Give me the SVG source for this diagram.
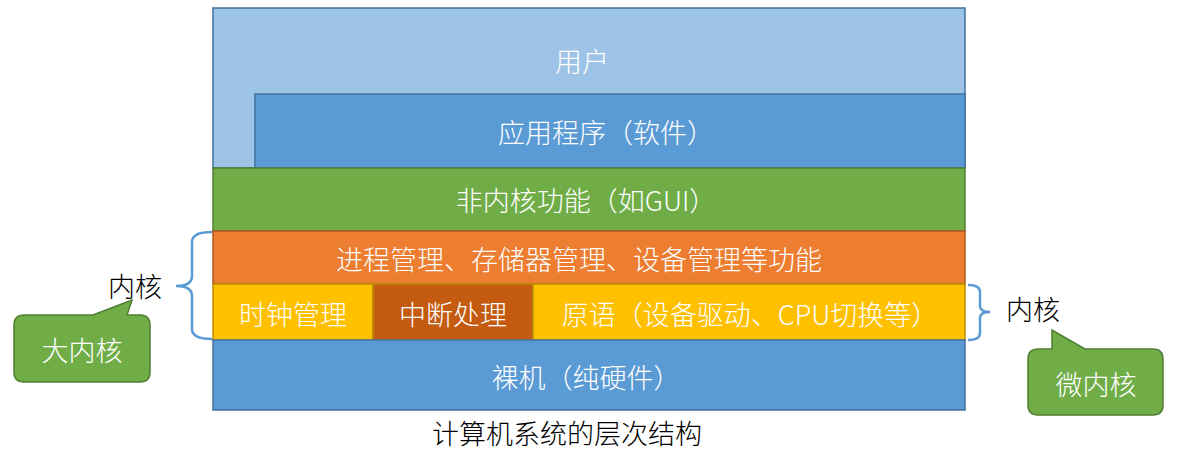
<svg xmlns="http://www.w3.org/2000/svg" width="1181" height="454" viewBox="0 0 1181 454">
<style>
text{font-family:"Noto Sans CJK SC","Noto Sans",sans-serif;font-size:27px;font-weight:300;text-anchor:middle;dominant-baseline:central}
.w{fill:#ffffff}
.k{fill:#000000}
.brace{fill:none;stroke:#5B9BD5;stroke-width:2.5}
</style>
<rect width="1181" height="454" fill="#ffffff"/>
<g id="user"><rect x="213" y="8" width="752" height="160" fill="#9DC3E6" stroke="#41719C" stroke-width="1.5"/><text class="w" x="582" y="60">用户</text></g>
<g id="app"><rect x="255" y="94" width="710" height="74" fill="#5B9BD5" stroke="#41719C" stroke-width="1.5"/><text class="w" x="606" y="131">应用程序（软件）</text></g>
<g id="nonkernel"><rect x="213" y="168" width="752" height="63" fill="#70AD47" stroke="#507E32" stroke-width="1.5"/><text class="w" x="586" y="199">非内核功能（如GUI）</text></g>
<g id="mgmt"><rect x="213" y="231" width="752" height="53" fill="#ED7D31" stroke="#AE5A21" stroke-width="1.5"/><text class="w" x="579" y="258">进程管理、存储器管理、设备管理等功能</text></g>
<g id="clock"><rect x="213" y="284" width="160" height="56" fill="#FFC000" stroke="#BC8C00" stroke-width="1.5"/><text class="w" x="293" y="313">时钟管理</text></g>
<g id="interrupt"><rect x="373" y="284" width="160" height="56" fill="#C55A11" stroke="#BC8C00" stroke-width="1.5"/><text class="w" x="453" y="313">中断处理</text></g>
<g id="primitive"><rect x="533" y="284" width="432" height="56" fill="#FFC000" stroke="#BC8C00" stroke-width="1.5"/><text class="w" x="750" y="313">原语（设备驱动、CPU切换等）</text></g>
<g id="hardware"><rect x="213" y="340" width="752" height="70" fill="#5B9BD5" stroke="#41719C" stroke-width="1.5"/><text class="w" x="586" y="376">裸机（纯硬件）</text></g>
<g id="caption"><text class="k" x="567" y="432">计算机系统的层次结构</text></g>
<g id="connectors">
<path class="brace" d="M212,232 Q192,232 192,242 L192,276 Q192,286 176,286 Q192,286 192,296 L192,329 Q192,339 212,339"/>
<path class="brace" d="M968,285 Q980,285 980,292 L980,306 Q980,312 990,312 Q980,312 980,318 L980,333 Q980,340 968,340"/>
</g>
<g id="bigkernel-label"><text class="k" x="135" y="285">内核</text></g>
<g id="microkernel-label"><text class="k" x="1033" y="308">内核</text></g>
<g id="bigkernel">
<path d="M24,315 L93,315 L132,300 L127,315 L140,315 Q150,315 150,325 L150,372 Q150,382 140,382 L24,382 Q14,382 14,372 L14,325 Q14,315 24,315 Z" fill="#70AD47" stroke="#507E32" stroke-width="1.5"/>
<text class="w" x="82" y="349">大内核</text>
</g>
<g id="microkernel">
<path d="M1038,349 L1052,349 L1052,330 L1085,349 L1153,349 Q1163,349 1163,359 L1163,405 Q1163,415 1153,415 L1038,415 Q1028,415 1028,405 L1028,359 Q1028,349 1038,349 Z" fill="#70AD47" stroke="#507E32" stroke-width="1.5"/>
<text class="w" x="1096" y="383">微内核</text>
</g>
</svg>
